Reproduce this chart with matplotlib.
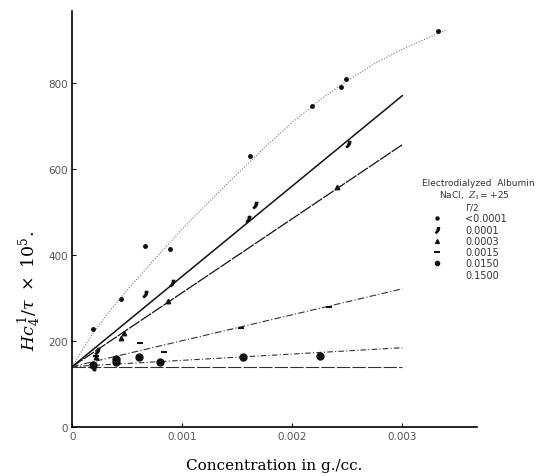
import matplotlib
matplotlib.use("Agg")
import matplotlib.pyplot as plt
import numpy as np

# Concentration (g./cc.) and Hc/tau x 10^5
# series order: <0.0001, 0.0001, 0.0003, 0.0015, 0.0150, 0.1500 (Gamma/2)
ionic = ["<0.0001", "0.0001", "0.0003", "0.0015", "0.0150", "0.1500"]

x_s1 = [0.00019, 0.00044, 0.00066, 0.00089, 0.00162, 0.00218, 0.00244, 0.00249, 0.00332]
y_s1 = [228, 298, 421, 414, 630, 747, 790, 809, 921]
curve_x = [0, 0.0001, 0.0002, 0.00035, 0.0005, 0.00075, 0.001, 0.00125, 0.0015,
           0.00175, 0.002, 0.00225, 0.0025, 0.00275, 0.003, 0.00339]
curve_y = [140, 182, 222, 272, 318, 390, 460, 525, 588, 650, 708, 760, 805,
           845, 878, 922]

x_s2 = [0.00023, 0.00066, 0.00091, 0.0016, 0.00166, 0.00251]
y_s2 = [177, 310, 335, 484, 516, 658]
fit2 = [140, 770]

x_s3 = [0.00022, 0.00044, 0.00047, 0.00087, 0.00241]
y_s3 = [163, 207, 219, 293, 558]
fit3 = [140, 656]

x_s4 = [0.00022, 0.00062, 0.00083, 0.00153, 0.00233]
y_s4 = [165, 195, 174, 230, 279]
fit4 = [140, 321]

x_s5 = [0.00019, 0.0004, 0.0004, 0.00061, 0.0008, 0.00155, 0.00225]
y_s5 = [144, 151, 158, 163, 151, 163, 165]
fit5 = [140, 184]

x_s6 = [0.0002]
y_s6 = [135]
fit6 = [140, 140]

fit_x = [0, 0.003]

plt.rcParams['font.family'] = 'DejaVu Sans'
plt.rcParams['mathtext.fontset'] = 'dejavuserif'
fig = plt.figure(figsize=(5.51, 4.77), dpi=100)
ax = fig.add_axes([0.131, 0.103, 0.735, 0.872])

ink = '#111111'
ax.plot(curve_x, curve_y, color='#777777', lw=0.8, ls=(0, (1, 1.5)))
ax.plot(fit_x, fit2, color=ink, lw=1.1)
ax.plot(fit_x, fit3, color=ink, lw=0.9, ls=(0, (10, 1)))
ax.plot(fit_x, fit4, color='#333333', lw=0.8, ls=(0, (6, 2, 1, 2)))
ax.plot(fit_x, fit5, color='#333333', lw=0.8, ls=(0, (5, 2, 1, 2)))
ax.plot(fit_x, fit6, color='#333333', lw=0.8, ls=(0, (12, 2)))

ax.plot(x_s1, y_s1, 'o', color=ink, ms=2.5)
ax.plot(x_s2, y_s2, ls='none', marker='$,$', color=ink, ms=4.5)
ax.plot(x_s3, y_s3, '^', color=ink, ms=3.2)
ax.plot(x_s4, y_s4, '_', color=ink, ms=5, mew=1.5)
ax.plot(x_s5, y_s5, 'o', color=ink, ms=5)
ax.plot(x_s6, y_s6, 'o', color=ink, ms=2)

ax.set_xlim(0, 0.00368)
ax.set_ylim(0, 967)
ax.set_xticks([0, 0.001, 0.002, 0.003])
ax.set_xticklabels(['0', '0.001', '0.002', '0.003'])
ax.set_yticks([0, 200, 400, 600, 800])
ax.set_yticklabels(['0', '200', '400', '600', '800'])
ax.tick_params(direction='in', length=3, width=0.8, labelsize=7.5,
               labelcolor='#555555', pad=3)
for s in ['top', 'right']:
    ax.spines[s].set_visible(False)
for s in ['left', 'bottom']:
    ax.spines[s].set_linewidth(1.2)

ax.set_xlabel('Concentration in g./cc.', family='DejaVu Serif', fontsize=11,
              labelpad=12)
fig.text(0.055, 0.39, r'$Hc_4^{\,1}/\tau\ \times\ 10^5.$', rotation=90,
         ha='center', va='center', fontsize=12.5)

# legend block drawn as text
lc = '#333333'
fig.text(478 / 551, 1 - 184 / 477, 'Electrodialyzed  Albumin', ha='center',
         va='center', fontsize=6.5, color=lc)
fig.text(474 / 551, 1 - 196 / 477, r'NaCl,  $Z_1$= +25', ha='center',
         va='center', fontsize=6.5, color=lc)
fig.text(472 / 551, 1 - 208 / 477, 'Γ/2', ha='center', va='center',
         fontsize=6.5, color=lc)
rows_y = [219, 231, 242, 253, 264, 276]
marks = [('o', 2.2, 1), ('$,$', 4, 1), ('^', 2.8, 1), ('_', 4.5, 1.4),
         ('o', 3, 1), (None, 0, 0)]
for lab, ry, (mk, ms, mw) in zip(ionic, rows_y, marks):
    fy = 1 - ry / 477
    fig.text(465 / 551, fy, lab, ha='left', va='center', fontsize=7, color=lc)
    if mk is not None:
        fig.lines.append(plt.Line2D([437 / 551], [fy], marker=mk, ms=ms,
                                    mew=mw, color=ink, ls='none',
                                    transform=fig.transFigure))

fig.savefig('out.png', dpi=100)
